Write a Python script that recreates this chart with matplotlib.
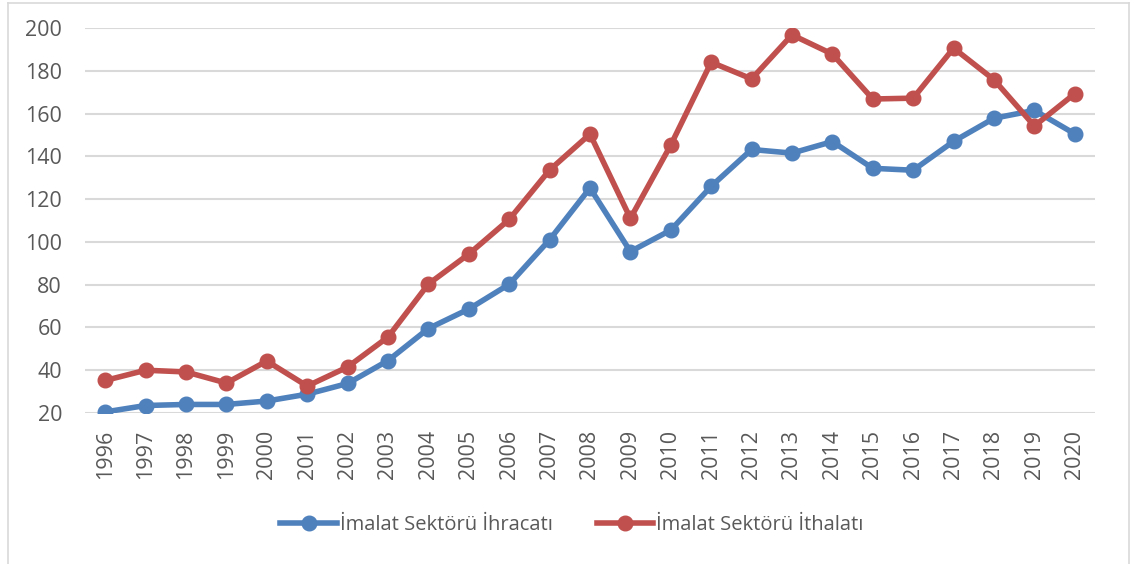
import matplotlib
matplotlib.use("Agg")
import matplotlib.pyplot as plt
from matplotlib.lines import Line2D

years = [str(y) for y in range(1996, 2021)]
ihracat = [20.5, 23.5, 24.0, 24.0, 25.6, 28.8, 33.8, 44.5, 59.5, 68.6, 80.2,
           101.0, 125.2, 95.5, 105.5, 126.0, 143.2, 141.5, 146.9, 134.4, 133.5,
           147.0, 157.8, 161.5, 150.5]
ithalat = [35.2, 40.0, 39.2, 34.0, 44.3, 32.6, 41.5, 55.5, 80.3, 94.3, 110.5,
           133.6, 150.4, 111.0, 145.3, 184.0, 176.2, 196.8, 187.8, 166.8, 167.2,
           190.6, 175.8, 154.2, 169.3]
labels = ["İmalat Sektörü İhracatı", "İmalat Sektörü İthalatı"]
yticks = [20, 40, 60, 80, 100, 120, 140, 160, 180, 200]

plt.rcParams['font.family'] = ['Open Sans', 'DejaVu Sans']
txt = '#595959'

fig = plt.figure(figsize=(11.32, 5.64), dpi=100)
ax = fig.add_axes([85/1132, 151/564, 1010/1132, 385/564])

x = list(range(len(years)))
ax.plot(x, ihracat, color='#4F81BD', lw=4.0, marker='o', ms=10.5, label=labels[0],
        solid_joinstyle='round', zorder=3)
ax.plot(x, ithalat, color='#C0504D', lw=4.0, marker='o', ms=10.5, label=labels[1],
        solid_joinstyle='round', zorder=3)

ax.set_xlim(-0.5, len(years) - 0.5)
ax.set_ylim(20, 200)
ax.set_yticks(yticks)
ax.set_xticks(x)
ax.set_xticklabels(years, rotation=90)
ax.grid(axis='y', color='#D9D9D9', lw=1.5)
ax.set_axisbelow(True)
for s in ax.spines.values():
    s.set_visible(False)
ax.tick_params(axis='both', length=0, labelsize=15.5, colors=txt)
ax.tick_params(axis='y', pad=16.5)
ax.tick_params(axis='x', pad=12)

leg = fig.legend(loc='center', bbox_to_anchor=(572/1132, 39/564), ncol=2,
                 frameon=False, fontsize=14.5, handlelength=2.8,
                 handletextpad=0.15, columnspacing=2.2)
for t in leg.get_texts():
    t.set_color(txt)

# chart border
fig.add_artist(Line2D([8/1132, 8/1132], [0, 1 - 3/564], transform=fig.transFigure,
                      color='#D9D9D9', lw=1.2))
fig.add_artist(Line2D([8/1132, 1129/1132], [1 - 3/564, 1 - 3/564], transform=fig.transFigure,
                      color='#D9D9D9', lw=1.2))
fig.add_artist(Line2D([1129/1132, 1129/1132], [0, 1 - 3/564], transform=fig.transFigure,
                      color='#D9D9D9', lw=1.2))

fig.savefig('out.png', dpi=100)
